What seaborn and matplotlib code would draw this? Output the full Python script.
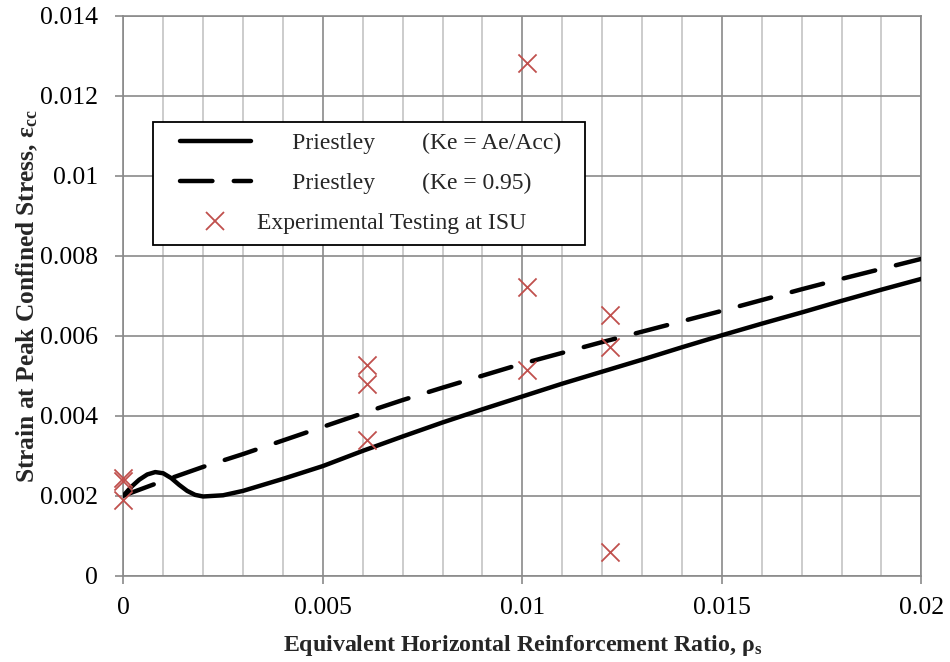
import matplotlib
matplotlib.use("Agg")
import matplotlib.pyplot as plt
from matplotlib.ticker import MultipleLocator
from matplotlib.lines import Line2D
from matplotlib.legend_handler import HandlerLine2D
import seaborn as sns
import pandas as pd

# ---------------- data ----------------
solid_x = [0, 0.0002, 0.0004, 0.0006, 0.0008, 0.001, 0.0012, 0.0014, 0.0016, 0.0018,
           0.002, 0.0025, 0.003, 0.004, 0.005, 0.006, 0.007, 0.008, 0.009, 0.01,
           0.011, 0.012, 0.013, 0.014, 0.015, 0.016, 0.017, 0.018, 0.019, 0.02]
solid_y = [0.00200, 0.00222, 0.00240, 0.00253, 0.00259, 0.00256, 0.00244, 0.00227, 0.00212, 0.00202,
           0.00198, 0.00201, 0.00212, 0.00242, 0.00274, 0.00312, 0.00348, 0.00383, 0.00416, 0.00448,
           0.00480, 0.00510, 0.00540, 0.00571, 0.00601, 0.00630, 0.00658, 0.00687, 0.00715, 0.00742]

dashed_x = [0, 0.001, 0.002, 0.003, 0.004, 0.005, 0.006, 0.007, 0.008, 0.009, 0.01,
            0.011, 0.012, 0.013, 0.014, 0.015, 0.016, 0.017, 0.018, 0.019, 0.02]
dashed_y = [0.00200, 0.00237, 0.00272, 0.00304, 0.00338, 0.00372, 0.00406, 0.00439, 0.00470, 0.00500, 0.00530,
            0.00557, 0.00584, 0.00610, 0.00636, 0.00662, 0.00689, 0.00716, 0.00742, 0.00767, 0.00792]

exp_x = [0, 0, 0, 0.0061, 0.0061, 0.0061, 0.01013, 0.01013, 0.01013, 0.0122, 0.0122, 0.0122]
exp_y = [0.00243, 0.00236, 0.00188, 0.00527, 0.00479, 0.00338, 0.01282, 0.00721, 0.00513, 0.00652, 0.00571, 0.0006]

x_ticks = [0, 0.005, 0.01, 0.015, 0.02]
x_tick_labels = ["0", "0.005", "0.01", "0.015", "0.02"]
y_ticks = [0, 0.002, 0.004, 0.006, 0.008, 0.010, 0.012, 0.014]
y_tick_labels = ["0", "0.002", "0.004", "0.006", "0.008", "0.01", "0.012", "0.014"]

label_solid = "      Priestley        (Ke = Ae/Acc)"
label_dashed = "      Priestley        (Ke = 0.95)"
label_exp = "Experimental Testing at ISU"

# ---------------- style ----------------
sns.set_style("white")
plt.rcParams['font.family'] = ['Liberation Serif', 'DejaVu Serif']
plt.rcParams['mathtext.fontset'] = 'custom'
plt.rcParams['mathtext.rm'] = 'Liberation Serif:bold'
plt.rcParams['mathtext.it'] = 'Liberation Serif:bold'
plt.rcParams['mathtext.bf'] = 'Liberation Serif:bold'

GRID_MAJOR = '#8a8a8a'
GRID_MINOR = '#c4c4c4'
RED = '#C0504D'
LW = 3.2
DASH = [7.3, 4.8]

fig = plt.figure(figsize=(9.5, 6.62), dpi=100)
ax = fig.add_axes([0.1298, 0.1304, 0.84, 0.8459])

df_solid = pd.DataFrame({'x': solid_x, 'y': solid_y})
df_dashed = pd.DataFrame({'x': dashed_x, 'y': dashed_y})
df_exp = pd.DataFrame({'x': exp_x, 'y': exp_y})

sns.lineplot(data=df_solid, x='x', y='y', ax=ax, color='black', lw=LW,
             solid_capstyle='round', solid_joinstyle='round', sort=False, zorder=3)
sns.lineplot(data=df_dashed, x='x', y='y', ax=ax, color='black', lw=LW, sort=False, zorder=3)
dl = ax.lines[-1]
dl.set_dashes(DASH)
dl.set_dash_capstyle('round')
dl.set_dash_joinstyle('round')
sns.scatterplot(data=df_exp, x='x', y='y', ax=ax, marker='x', s=170, color=RED,
                linewidths=1.3, clip_on=False, zorder=4)

ax.set_xlim(0, 0.02)
ax.set_ylim(0, 0.014)
ax.set_xticks(x_ticks, x_tick_labels)
ax.set_yticks(y_ticks, y_tick_labels)
ax.xaxis.set_minor_locator(MultipleLocator(0.001))
ax.grid(which='major', axis='both', color=GRID_MAJOR, lw=1.2, zorder=0)
ax.grid(which='minor', axis='x', color=GRID_MINOR, lw=1.2, zorder=0)
ax.set_axisbelow(True)
ax.tick_params(which='major', direction='out', length=6, width=1.2, color=GRID_MAJOR,
               labelsize=18.5, labelcolor='black')
ax.tick_params(axis='x', which='major', pad=9.5, bottom=True)
ax.tick_params(axis='y', which='major', pad=12, left=True)
ax.tick_params(which='minor', length=0)
for sp in ax.spines.values():
    sp.set_color(GRID_MAJOR)
    sp.set_linewidth(1.2)

ax.set_xlabel("Equivalent Horizontal Reinforcement Ratio, ρ$_{\\mathrm{s}}$",
              fontsize=17.2, fontweight='bold', labelpad=10)
ax.set_ylabel("Strain at Peak Confined Stress, ε$_{\\mathrm{cc}}$",
              fontsize=18.3, fontweight='bold', labelpad=0)

handles = [
    Line2D([], [], color='black', lw=LW, solid_capstyle='round'),
    Line2D([], [], color='black', lw=LW, dashes=DASH, dash_capstyle='round'),
    Line2D([], [], color=RED, marker='x', ls='none', markersize=12.5, markeredgewidth=1.3),
]
top = 1 - 121.5 / 662
left = 152.5 / 950
width = (585.5 - 152.5) / 950
leg = ax.legend(handles, [label_solid, label_dashed, label_exp],
                loc='upper left', bbox_to_anchor=(left, top - 0.2, width, 0.2),
                bbox_transform=fig.transFigure, mode='expand', fontsize=17, frameon=True,
                fancybox=False, framealpha=1, edgecolor='black', borderpad=0.47,
                handlelength=3.69, handletextpad=0.25, labelspacing=0.78, borderaxespad=0,
                handler_map={Line2D: HandlerLine2D(xpad=0.68)})
leg.get_frame().set_linewidth(1.3)

fig.savefig("out.png", dpi=100)
